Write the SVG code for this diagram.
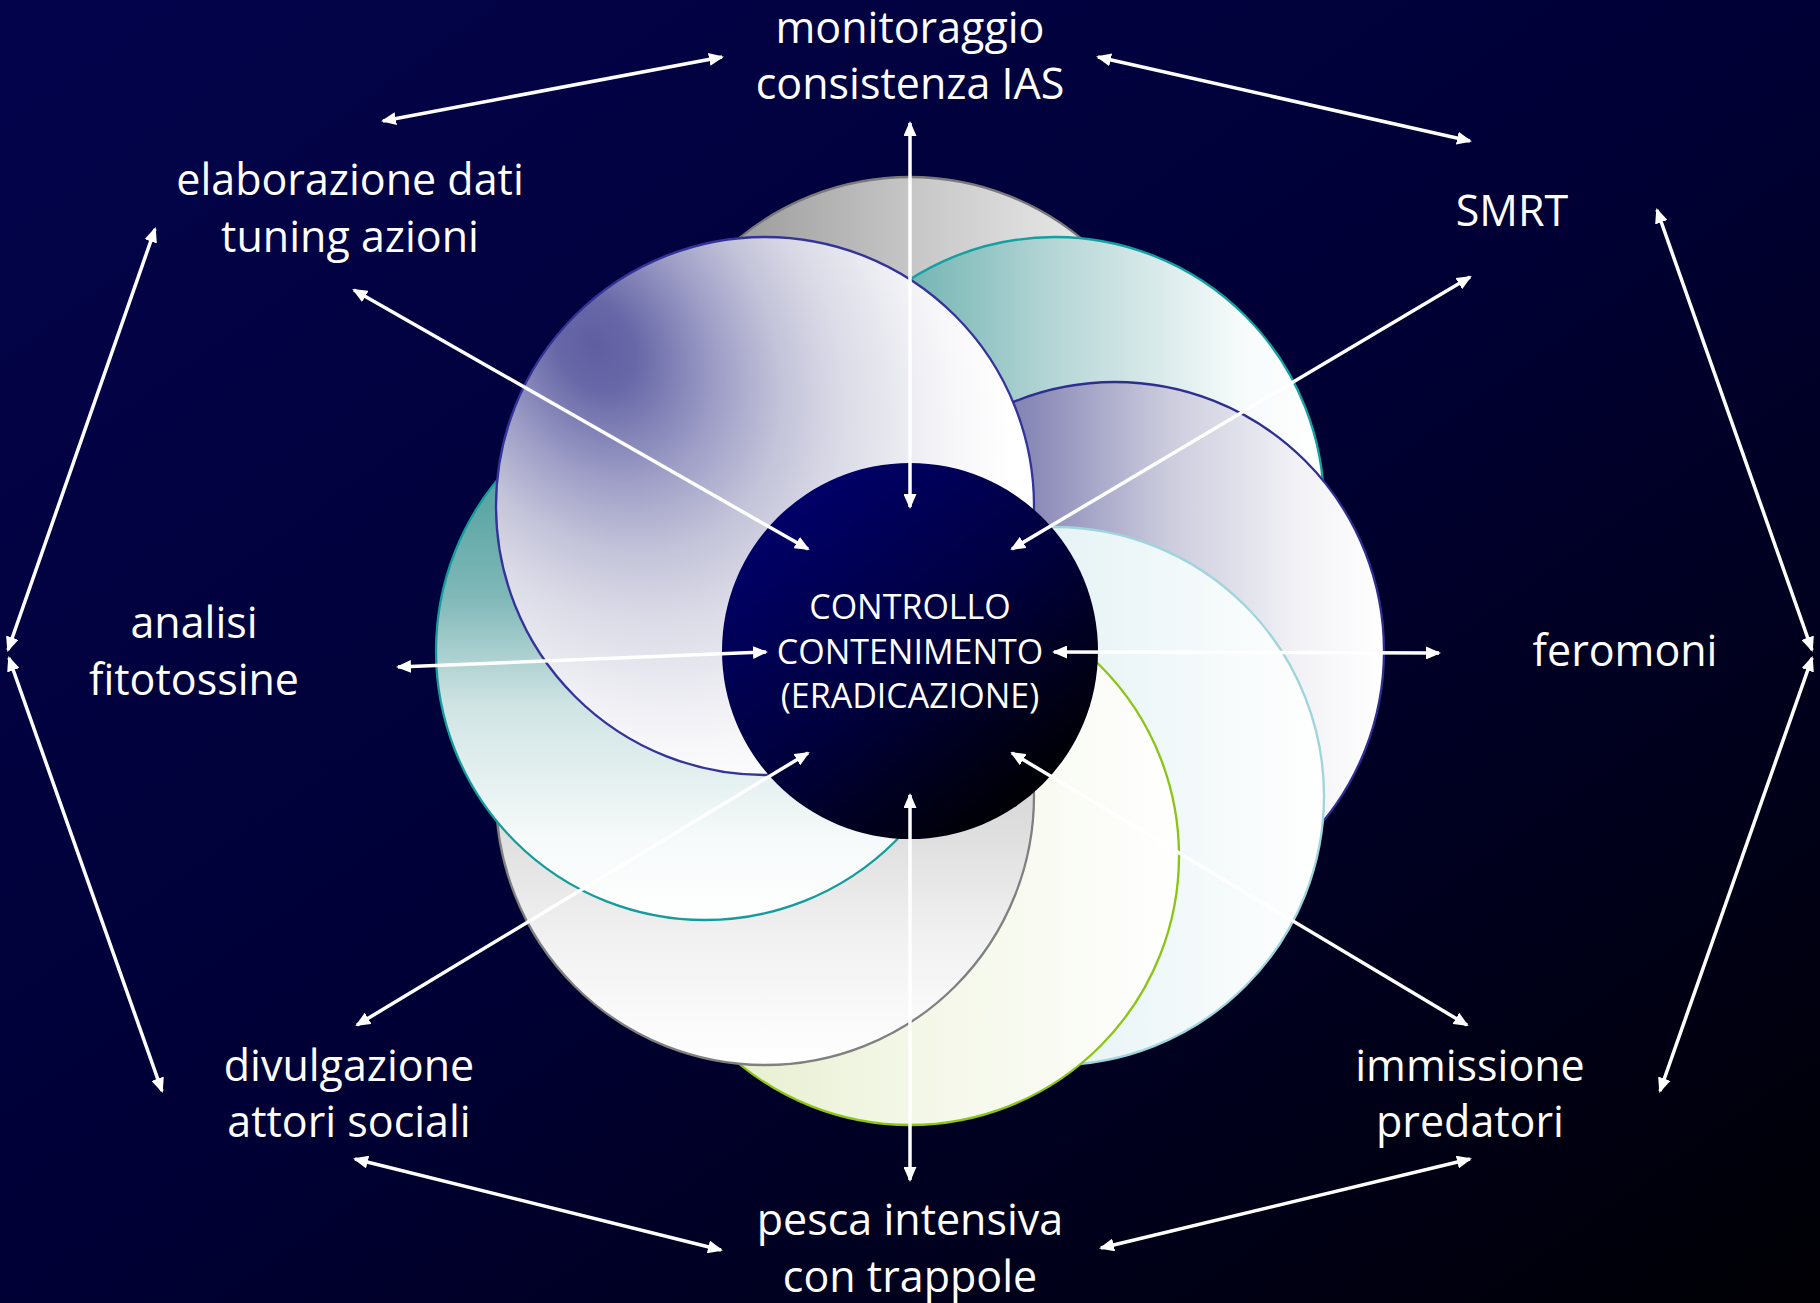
<svg xmlns="http://www.w3.org/2000/svg" width="1820" height="1303" viewBox="0 0 1820 1303">
<defs>
<linearGradient id="bg" x1="0" y1="0" x2="1" y2="1">
<stop offset="0" stop-color="#03034c"/>
<stop offset="0.5" stop-color="#000036"/>
<stop offset="1" stop-color="#000004"/>
</linearGradient>
<linearGradient id="gCenter" x1="0.2" y1="0.1" x2="0.85" y2="0.9">
<stop offset="0" stop-color="#000068"/>
<stop offset="0.5" stop-color="#00003e"/>
<stop offset="1" stop-color="#000000"/>
</linearGradient>
<linearGradient id="gGrayTop">
<stop offset="0" stop-color="#868686"/>
<stop offset="0.5" stop-color="#c6c6c6"/>
<stop offset="1" stop-color="#fafafa"/>
</linearGradient>
<linearGradient id="gTealTR">
<stop offset="0" stop-color="#3a9896"/>
<stop offset="0.5" stop-color="#b6d6d6"/>
<stop offset="0.85" stop-color="#f7fbfb"/>
<stop offset="1" stop-color="#ffffff"/>
</linearGradient>
<linearGradient id="gPurpleR">
<stop offset="0" stop-color="#5a5a9c"/>
<stop offset="0.35" stop-color="#8a8ab8"/>
<stop offset="0.6" stop-color="#ccccde"/>
<stop offset="0.85" stop-color="#f3f3f7"/>
<stop offset="1" stop-color="#ffffff"/>
</linearGradient>
<linearGradient id="gCyanBR">
<stop offset="0" stop-color="#a8d4dc"/>
<stop offset="0.5" stop-color="#e6f3f5"/>
<stop offset="1" stop-color="#ffffff"/>
</linearGradient>
<linearGradient id="gGreenB">
<stop offset="0" stop-color="#e0ebc4"/>
<stop offset="0.45" stop-color="#f2f6e4"/>
<stop offset="1" stop-color="#ffffff"/>
</linearGradient>
<linearGradient id="gGrayBL" x1="0" y1="0" x2="0" y2="1">
<stop offset="0" stop-color="#a0a0a0"/>
<stop offset="0.5" stop-color="#d8d8d8"/>
<stop offset="0.75" stop-color="#f0f0f0"/>
<stop offset="1" stop-color="#ffffff"/>
</linearGradient>
<linearGradient id="gTealL" x1="0" y1="0" x2="0" y2="1">
<stop offset="0" stop-color="#2f8f8f"/>
<stop offset="0.4" stop-color="#80b8b8"/>
<stop offset="0.6" stop-color="#d0e4e4"/>
<stop offset="0.85" stop-color="#f6fafa"/>
<stop offset="1" stop-color="#ffffff"/>
</linearGradient>
<radialGradient id="gBlueTL" gradientUnits="userSpaceOnUse" cx="595" cy="345" r="380" gradientTransform="translate(595,345) rotate(57) scale(1.3,1) translate(-595,-345)">
<stop offset="0" stop-color="#5e5ea2"/>
<stop offset="0.1" stop-color="#6868a8"/>
<stop offset="0.3" stop-color="#a0a0c8"/>
<stop offset="0.45" stop-color="#c4c4da"/>
<stop offset="0.6" stop-color="#dcdce8"/>
<stop offset="0.85" stop-color="#f6f6f9"/>
<stop offset="1" stop-color="#ffffff"/>
</radialGradient>
<marker id="ah" viewBox="0 0 15 13" refX="13" refY="6.5" markerWidth="15" markerHeight="13" markerUnits="userSpaceOnUse" orient="auto-start-reverse">
<path d="M0,0 L15,6.5 L0,13 z" fill="#ffffff"/>
</marker>
</defs>
<style>
.petal { stroke-width: 2.3; }
.conn line { stroke: #ffffff; stroke-width: 3.5; marker-start: url(#ah); marker-end: url(#ah); }
.lbl { font-family: "Open Sans", "Noto Sans", sans-serif; font-size: 43px; fill: #ffffff; text-anchor: middle; }
.ctr { font-family: "Open Sans", "Noto Sans", sans-serif; font-size: 34px; fill: #ffffff; text-anchor: middle; }
</style>
<rect x="0" y="0" width="1820" height="1303" fill="url(#bg)"/>

<g id="petals">
<circle id="petal-top" class="petal" cx="910" cy="446" r="269" fill="url(#gGrayTop)" stroke="#7a7a7a"/>
<circle id="petal-top-right" class="petal" cx="1055" cy="506" r="269" fill="url(#gTealTR)" stroke="#12a0a0"/>
<circle id="petal-right" class="petal" cx="1115" cy="651" r="269" fill="url(#gPurpleR)" stroke="#2e2e90"/>
<circle id="petal-bottom-right" class="petal" cx="1055" cy="796" r="269" fill="url(#gCyanBR)" stroke="#a0d4dc"/>
<circle id="petal-bottom" class="petal" cx="910" cy="856" r="269" fill="url(#gGreenB)" stroke="#8cc414"/>
<circle id="petal-bottom-left" class="petal" cx="765" cy="796" r="269" fill="url(#gGrayBL)" stroke="#808080"/>
<circle id="petal-left" class="petal" cx="705" cy="651" r="269" fill="url(#gTealL)" stroke="#149c9c"/>
<circle id="petal-top-left" class="petal" cx="765" cy="506" r="269" fill="url(#gBlueTL)" stroke="#33339a"/>
</g>

<g id="center">
<circle cx="910" cy="651" r="188" fill="url(#gCenter)"/>
<text class="ctr" x="910" y="619">CONTROLLO</text>
<text class="ctr" x="910" y="664">CONTENIMENTO</text>
<text class="ctr" x="910" y="708">(ERADICAZIONE)</text>
</g>

<g id="connectors" class="conn">
<line x1="910" y1="123" x2="910" y2="507"/>
<line x1="910" y1="795" x2="910" y2="1180"/>
<line x1="398" y1="667" x2="766" y2="652"/>
<line x1="1054" y1="652" x2="1439" y2="653"/>
<line x1="354" y1="290" x2="808" y2="549"/>
<line x1="1470" y1="277" x2="1012" y2="549"/>
<line x1="357" y1="1025" x2="808" y2="753"/>
<line x1="1467" y1="1025" x2="1012" y2="753"/>
<line x1="383" y1="121" x2="722" y2="57"/>
<line x1="1098" y1="57" x2="1470" y2="141"/>
<line x1="155" y1="229" x2="8" y2="650"/>
<line x1="9" y1="658" x2="162" y2="1091"/>
<line x1="1657" y1="210" x2="1812" y2="650"/>
<line x1="1812" y1="658" x2="1660" y2="1091"/>
<line x1="355" y1="1159" x2="721" y2="1250"/>
<line x1="1101" y1="1248" x2="1470" y2="1159"/>
</g>

<g id="node-monitoraggio">
<text class="lbl" x="910" y="43">monitoraggio</text>
<text class="lbl" x="910" y="99">consistenza IAS</text>
</g>
<g id="node-elaborazione">
<text class="lbl" x="350" y="195">elaborazione dati</text>
<text class="lbl" x="350" y="252">tuning azioni</text>
</g>
<g id="node-smrt">
<text class="lbl" x="1512" y="226">SMRT</text>
</g>
<g id="node-analisi">
<text class="lbl" x="194" y="638">analisi</text>
<text class="lbl" x="194" y="695">fitotossine</text>
</g>
<g id="node-feromoni">
<text class="lbl" x="1625" y="666">feromoni</text>
</g>
<g id="node-divulgazione">
<text class="lbl" x="349" y="1081">divulgazione</text>
<text class="lbl" x="349" y="1137">attori sociali</text>
</g>
<g id="node-immissione">
<text class="lbl" x="1470" y="1081">immissione</text>
<text class="lbl" x="1470" y="1137">predatori</text>
</g>
<g id="node-pesca">
<text class="lbl" x="910" y="1235">pesca intensiva</text>
<text class="lbl" x="910" y="1292">con trappole</text>
</g>
</svg>
